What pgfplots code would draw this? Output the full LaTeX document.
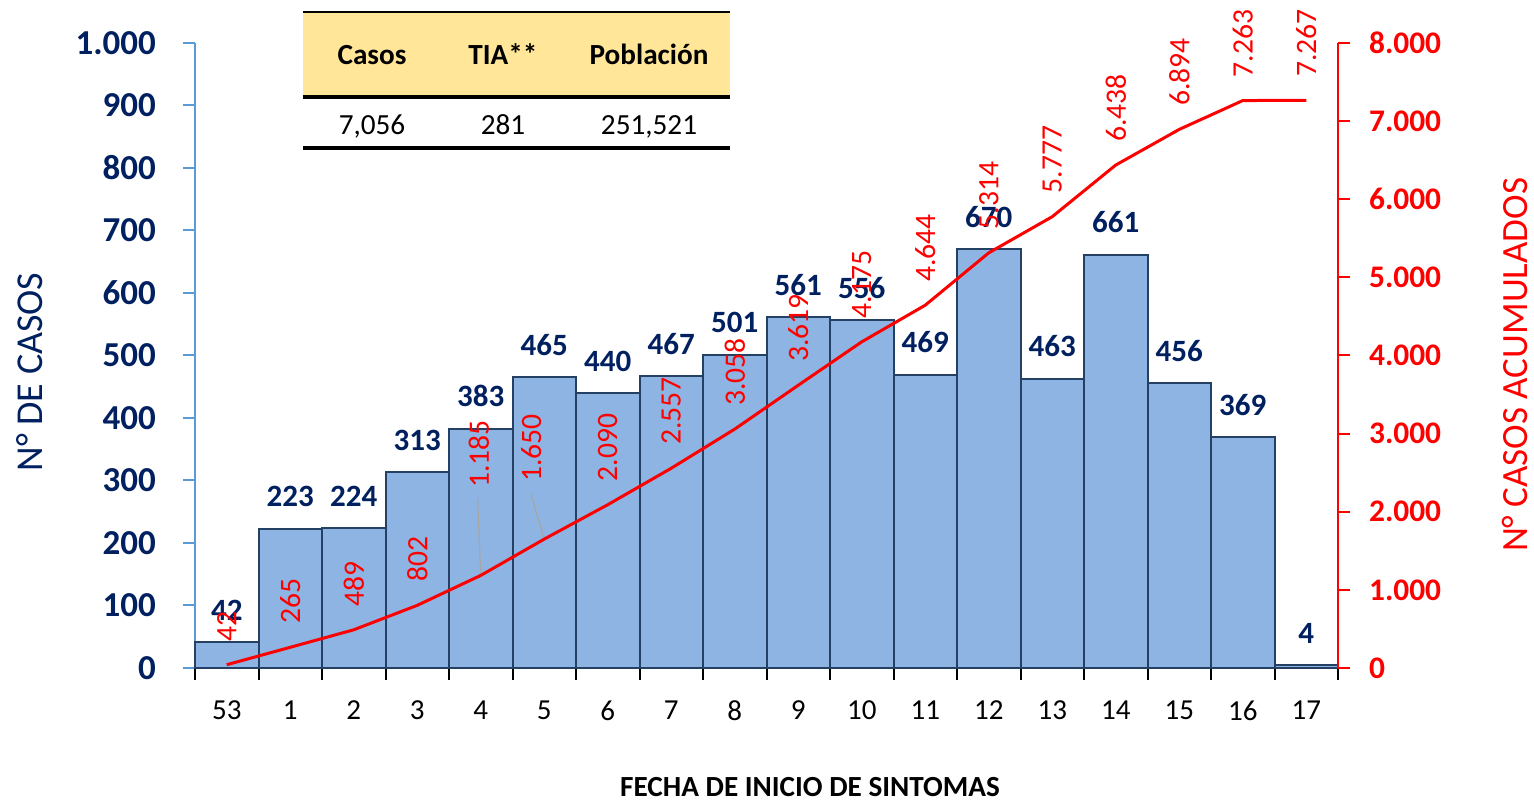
\documentclass[border=0pt]{standalone}
\usepackage{pgfplots}
\usepackage{pgfplotstable}
\pgfplotsset{compat=1.18}
\usepackage{fontspec}
\setmainfont{Carlito}
\definecolor{navy}{RGB}{0,32,96}
\definecolor{barfill}{RGB}{141,180,226}
\definecolor{baredge}{RGB}{36,64,98}
\definecolor{axblue}{RGB}{91,155,213}
\definecolor{hdr}{RGB}{255,230,153}
\pgfplotsset{/pgf/number format/assume math mode=true}
\pgfplotstableread{
x y
0 42
1 223
2 224
3 313
4 383
5 465
6 440
7 467
8 501
9 561
10 556
11 469
12 670
13 463
14 661
15 456
16 369
17 4
}\cases
\pgfplotstableread{
x y off sh
0 42 11 0
1 265 11 0
2 489 11 0
3 802 11 0
4 1185 43 -1
5 1650 28 -6.5
6 2090 11 0
7 2557 11 0
8 3058 11 0
9 3619 11 0
10 4175 11 0
11 4644 11 0
12 5314 11 0
13 5777 11 0
14 6438 11 0
15 6894 11 0
16 7263 11 0
17 7267 11 0
}\cum
\begin{document}
\begin{tikzpicture}
\begin{axis}[
  scale only axis, width=571.5pt, height=312.5pt,
  xmin=-0.5, xmax=17.5, ymin=0, ymax=1000,
  axis x line*=bottom, axis y line*=left,
  x axis line style={black, line width=1pt},
  y axis line style={axblue, line width=1pt},
  tick align=outside, major tick length=6pt, minor tick length=6pt,
  xtick={0,...,17},
  xticklabels={53,1,2,3,4,5,6,7,8,9,10,11,12,13,14,15,16,17},
  major x tick style={draw=none},
  minor xtick={-0.5,0.5,...,17.5},
  minor x tick style={black, line width=1pt},
  xticklabel style={font=\fontsize{14.5}{17}\selectfont, text=black, yshift=-7pt},
  ytick={0,100,...,1000},
  ytick style={axblue, line width=1pt},
  yticklabel style={font=\fontsize{17.5}{20}\selectfont\bfseries, text=navy, xshift=-10pt},
  /pgf/number format/1000 sep={.},
  ybar, bar width=1,
  clip=false,
]
\addplot[ybar, fill=barfill, draw=baredge, line width=1pt,
  nodes near coords,
  every node near coord/.append style={font=\fontsize{15.5}{18}\selectfont\bfseries, text=navy, yshift=7pt}]
  table[x=x,y=y] {\cases};
\end{axis}
\begin{axis}[
  scale only axis, width=571.5pt, height=312.5pt,
  xmin=-0.5, xmax=17.5, ymin=0, ymax=8000,
  axis y line*=right, axis x line=none,
  y axis line style={red, line width=1pt},
  tick align=outside, major tick length=6pt,
  ytick={0,1000,...,8000},
  ytick style={red, line width=1pt},
  yticklabel style={font=\fontsize{15.7}{18}\selectfont\bfseries, text=red, xshift=6pt},
  /pgf/number format/1000 sep={.},
  clip=false,
]
\draw[gray!70, line width=0.6pt] (axis cs:4,1185) -- (axis cs:3.95,2176);
\draw[gray!70, line width=0.6pt] (axis cs:5,1650) -- (axis cs:4.79,2227);
\addplot[red, line width=1.5pt, mark=none,
  visualization depends on={\thisrow{off}\as\myoff},
  visualization depends on={\thisrow{sh}\as\mysh},
  nodes near coords,
  every node near coord/.append style={font=\fontsize{14.8}{17}\selectfont, text=red,
     xshift=\mysh pt, rotate=90, anchor=west, inner xsep=\myoff pt}]
  table[x=x,y=y] {\cum};
\end{axis}
% table
\fill[hdr] (54pt,285.5pt) rectangle (267.5pt,328pt);
\draw[black, line width=1pt] (54pt,328pt) -- (267.5pt,328pt);
\draw[black, line width=1.8pt] (54pt,285.5pt) -- (267.5pt,285.5pt);
\draw[black, line width=1.8pt] (54pt,260pt) -- (267.5pt,260pt);
\begin{scope}[font=\fontsize{14.6}{17}\selectfont]
\node[anchor=base, font=\fontsize{14.6}{17}\selectfont\bfseries] at (88.5pt,301.8pt) {Casos};
\node[anchor=base, font=\fontsize{14.6}{17}\selectfont\bfseries] at (154pt,301.8pt) {TIA**};
\node[anchor=base, font=\fontsize{14.6}{17}\selectfont\bfseries] at (227pt,301.8pt) {Población};
\node[anchor=base] at (88.5pt,266.8pt) {7,056};
\node[anchor=base] at (154pt,266.8pt) {281};
\node[anchor=base] at (227pt,266.8pt) {251,521};
\end{scope}
% axis titles
\node[rotate=90, text=navy, font=\fontsize{19}{22}\selectfont] at (-82.5pt,148pt) {N° DE CASOS};
\node[rotate=90, text=red, font=\fontsize{18.5}{22}\selectfont] at (660pt,151.5pt) {N° CASOS ACUMULADOS};
\node[font=\fontsize{14.6}{17}\selectfont\bfseries] at (307.5pt,-59.5pt) {FECHA DE INICIO DE SINTOMAS};
\pgfresetboundingbox
\path[use as bounding box] (-97.5pt,-67pt) rectangle (669.5pt,334pt);
\end{tikzpicture}
\end{document}
